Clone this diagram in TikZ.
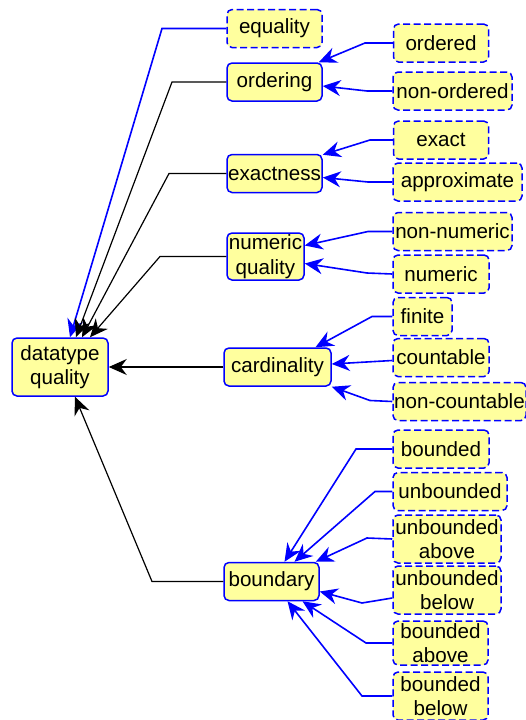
\documentclass[tikz,border=0pt]{standalone}
\usepackage{fontspec}
\setmainfont{Liberation Sans}
\usetikzlibrary{arrows.meta}
\definecolor{qfill}{RGB}{255,255,158}
\definecolor{qblue}{RGB}{0,0,255}
\begin{document}
\begin{tikzpicture}[x=1pt,y=-1pt,
    quality/.style ={rectangle, rounded corners=5pt, draw=qblue, fill=qfill, line width=1.5pt,
      align=center, inner xsep=1pt, inner ysep=1pt, minimum width=95pt, minimum height=38pt,
      font=\fontsize{20.6}{24.5}\selectfont},
    value/.style ={quality, dashed, dash pattern=on 7pt off 3.5pt},
    sub/.style ={line width=1.2pt, -{Stealth[length=18pt,width=16pt,inset=6pt]}},
    opt/.style ={line width=1.6pt, draw=qblue, -{Stealth[length=18pt,width=16pt,inset=6pt,fill=qblue]}}]
   \useasboundingbox (0,0) rectangle (526,720);
   \node[quality, minimum width=96pt, minimum height=58pt] (dq) at (60,367) {datatype\\quality};
   \node[value] (equality) at (274.5,28.5) {equality};
   \node[quality] (ordering) at (274.5,82) {ordering};
   \node[value] (ordered) at (441,43) {ordered};
   \node[value, minimum width=119pt] (nonordered) at (452.5,91) {non-ordered};
   \node[quality] (exactness) at (274.5,173.5) {exactness};
   \node[value] (exact) at (441,140) {exact};
   \node[value, minimum width=129pt] (approx) at (457.5,182) {approximate};
   \node[quality, minimum width=77pt, minimum height=47pt] (numq) at (265.5,256.5) {numeric\\quality};
   \node[value, minimum width=119pt] (nonnumeric) at (452.5,231.5) {non-numeric};
   \node[value, minimum width=96pt] (numeric) at (441,274) {numeric};
   \node[quality, minimum width=107pt] (cardinality) at (277.5,367) {cardinality};
   \node[value, minimum width=59pt] (finite) at (422.5,316.5) {finite};
   \node[value, minimum width=96pt] (countable) at (441,357.5) {countable};
   \node[value, minimum width=133pt] (noncountable) at (459.5,401.5) {non-countable};
   \node[quality] (boundary) at (271.5,581.5) {boundary};
   \node[value, minimum width=96pt] (bounded) at (441,449) {bounded};
   \node[value, minimum width=114pt] (unbounded) at (450,491.5) {unbounded};
   \node[value, minimum width=108pt, minimum height=48pt] (unbabove) at (447,539) {unbounded\\above};
   \node[value, minimum width=108pt, minimum height=48pt] (unbbelow) at (447,590) {unbounded\\below};
   \node[value, minimum height=44pt] (babove) at (440.5,643) {bounded\\above};
   \node[value, minimum height=48pt] (bbelow) at (440.5,696) {bounded\\below};
   % qualities into datatype quality
   \draw[opt] (equality.west) -- (162,28.5) -- ([xshift=10pt]dq.north);
   \draw[sub] (ordering.west) -- (172,82) -- ([xshift=16pt]dq.north);
   \draw[sub] (exactness.west) -- (169,173.5) -- ([xshift=22pt]dq.north);
   \draw[sub] (numq.west) -- (160,256.5) -- ([xshift=30pt]dq.north);
   \draw[sub] (cardinality.west) -- (dq.east);
   \draw[sub] (boundary.west) -- (152,581.5) -- ([xshift=15pt]dq.south);
   % values into qualities
   \draw[opt] (ordered.west) -- (365,43) -- ([xshift=-4pt]ordering.north east);
   \draw[opt] (nonordered.west) -- (367,91) -- ([yshift=-4pt]ordering.east);
   \draw[opt] (exact.west) -- (370,140) -- ([yshift=-1pt]exactness.north east);
   \draw[opt] (approx.west) -- (368,182) -- ([yshift=-4pt]exactness.east);
   \draw[opt] (nonnumeric.west) -- (368,231.5) -- ([yshift=11pt]numq.east);
   \draw[opt] (numeric.west) -- (367,273) -- ([yshift=-7pt]numq.east);
   \draw[opt] (finite.west) -- (372,316.5) -- ([xshift=38pt]cardinality.north);
   \draw[opt] ([yshift=-3pt]countable.west) -- ([yshift=3pt]cardinality.east);
   \draw[opt] (noncountable.west) -- (370,400.5) -- (cardinality.south east);
   \draw[opt] (bounded.west) -- (356,449) -- ([xshift=13pt]boundary.north);
   \draw[opt] (unbounded.west) -- (375,491.5) -- ([xshift=23pt]boundary.north);
   \draw[opt] (unbabove.west) -- (367,538) -- ([xshift=-4pt]boundary.north east);
   \draw[opt] ([yshift=-8pt]unbbelow.west) -- (362,603) -- ([yshift=-10pt]boundary.east);
   \draw[opt] (babove.west) -- (366,643) -- ([xshift=31pt]boundary.south);
   \draw[opt] (bbelow.west) -- (362,696) -- ([xshift=16pt]boundary.south);
 \end{tikzpicture}
\end{document}
